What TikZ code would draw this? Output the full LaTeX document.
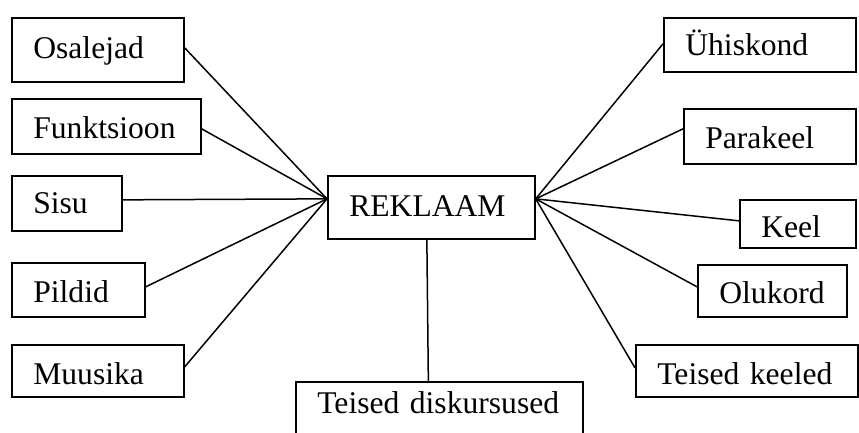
\documentclass[tikz,border=0pt]{standalone}
\usepackage{fontspec}
\setmainfont{Liberation Serif}
\begin{document}
\begin{tikzpicture}[x=1pt,y=-1pt,
  bx/.style n args={3}{draw, line width=1.7pt, anchor=north west, inner xsep=21.5pt, inner ysep=0pt,
     text width=#1pt-43pt, minimum height=#2pt, align=left, text depth=6pt, text height=#3pt,
     font=\fontsize{31.6pt}{34pt}\selectfont},
  con/.style={line width=1.5pt}]
\useasboundingbox (0,0) rectangle (859,433);
\clip (0,0) rectangle (859,433);
% left boxes
\node[bx={172}{64}{24}] (osalejad) at (11,17) {Osalejad};
\node[bx={189}{55}{31}] (funktsioon) at (11,98) {Funktsioon};
\node[bx={110}{55}{27}] (sisu) at (11,175) {Sisu};
\node[bx={133}{54}{32}] (pildid) at (11,262) {Pildid};
\node[bx={172}{52}{34}] (muusika) at (11,344) {Muusika};
% centre
\node[bx={207}{63}{25}] (reklaam) at (327,175) {REKLAAM};
% right boxes
\node[bx={192}{54}{28}] (uhiskond) at (663,17) {Ühiskond};
\node[bx={172}{55}{31}] (parakeel) at (683,108) {Parakeel};
\node[bx={116}{48}{34}] (keel) at (739,199) {Keel};
\node[bx={149}{52}{32}] (olukord) at (697,264) {Olukord};
\node[bx={222}{52}{34}] (teisedk) at (635,344) {Teised keeled};
% bottom
\node[bx={287}{56}{13}] (teisedd) at (295,381) {Teised diskursused};
% hubs
\coordinate (hubL) at ([yshift=8.5pt]reklaam.west);
\coordinate (hubR) at ([yshift=8.5pt]reklaam.east);
% connectors
\draw[con] ([yshift=2pt]osalejad.east) -- (hubL);
\draw[con] ([yshift=-2.5pt]funktsioon.east) -- (hubL);
\draw[con] ([yshift=3.5pt]sisu.east) -- (hubL);
\draw[con] ([yshift=3pt]pildid.east) -- (hubL);
\draw[con] ([yshift=4pt]muusika.east) -- (hubL);
\draw[con] ([yshift=1pt]uhiskond.west) -- (hubR);
\draw[con] ([yshift=7.5pt]parakeel.west) -- (hubR);
\draw[con] ([yshift=3pt]keel.west) -- (hubR);
\draw[con] ([yshift=4pt]olukord.west) -- (hubR);
\draw[con] ([yshift=3pt]teisedk.west) -- (hubR);
\draw[con] ([xshift=-4.5pt]reklaam.south) -- ([xshift=-11pt]teisedd.north);
\end{tikzpicture}
\end{document}
